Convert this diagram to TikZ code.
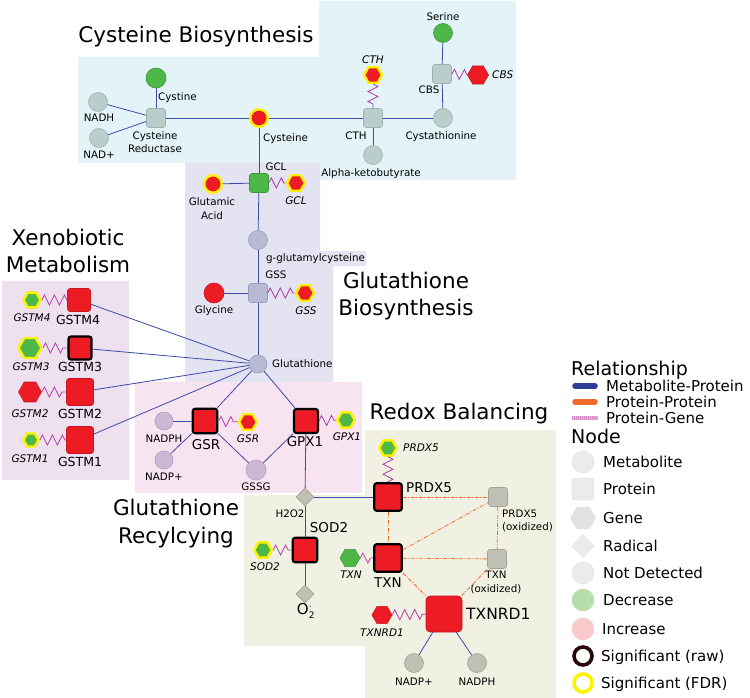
\documentclass[tikz,border=0pt]{standalone}
\usepackage{fontspec}
\setmainfont{DejaVu Sans}
\usetikzlibrary{shapes.geometric,decorations.pathmorphing}
\definecolor{cRed}{HTML}{ED1C24}
\definecolor{cRedD}{HTML}{C8161D}
\definecolor{cGreen}{HTML}{4DB848}
\definecolor{cGreenD}{HTML}{3C9A3A}
\definecolor{cYel}{HTML}{FFF200}
\definecolor{bgBlue}{HTML}{E3F3F7}
\definecolor{bgPurp}{HTML}{E3E3F1}
\definecolor{bgXeno}{HTML}{EFE0EF}
\definecolor{bgPink}{HTML}{F8E3F1}
\definecolor{bgBeige}{HTML}{F1F1E3}
\definecolor{nCys}{HTML}{B9CDCB}
\definecolor{nCysD}{HTML}{9DB3B1}
\definecolor{nGsh}{HTML}{B8B9D3}
\definecolor{nGshD}{HTML}{9C9DBE}
\definecolor{nRec}{HTML}{CDB7D4}
\definecolor{nRecD}{HTML}{B49DBE}
\definecolor{nRdx}{HTML}{BFBFB4}
\definecolor{nRdxD}{HTML}{A3A397}
\definecolor{eBlue}{HTML}{3B4CA6}
\definecolor{eOr}{HTML}{F26A2A}
\definecolor{eMag}{HTML}{B03FA5}
\definecolor{lgBlue}{HTML}{2E3D9A}
\definecolor{lgOr}{HTML}{F26A2A}
\definecolor{lgPink}{HTML}{EBB0DD}
\definecolor{lgPinkD}{HTML}{D58CC6}
\definecolor{lgGray}{HTML}{EBEBEB}
\definecolor{lgGrayD}{HTML}{E0E0E0}
\definecolor{lgGreen}{HTML}{B7DEAA}
\definecolor{lgRed}{HTML}{F9C9CB}
\definecolor{lgDark}{HTML}{2A0808}
\begin{document}
\begin{tikzpicture}[x=1pt,y=-1pt,
  met/.style={circle,inner sep=0pt,minimum size=19pt,line width=0.6pt},
  cys/.style={fill=nCys,draw=nCysD},
  gsh/.style={fill=nGsh,draw=nGshD},
  rec/.style={fill=nRec,draw=nRecD},
  rdx/.style={fill=nRdx,draw=nRdxD},
  grnf/.style={fill=cGreen,draw=cGreenD},
  redf/.style={fill=cRed,draw=cRedD},
  fdr/.style={draw=cYel,line width=2.4pt},
  raw/.style={draw=black,line width=2.2pt},
  prot/.style={rectangle,rounded corners=2.5pt,inner sep=0pt,minimum size=#1,line width=0.6pt},
  gene/.style={regular polygon,regular polygon sides=6,inner sep=0pt,minimum size=#1,line width=0.6pt},
  rad/.style={diamond,inner sep=0pt,minimum width=18pt,minimum height=18pt,fill=nRdx,draw=nRdxD,line width=0.6pt},
  mp/.style={draw=eBlue,line width=0.8pt},
  pp/.style={draw=eOr,line width=0.8pt,dash pattern=on 4pt off 1.5pt on 1pt off 1.5pt},
  pg/.style={draw=eMag,line width=0.8pt,decorate,decoration={zigzag,segment length=10pt,amplitude=5pt}},
  lab/.style={font=\fontsize{10.3}{13.5}\selectfont,inner sep=0pt,text height=7.5pt,text depth=0pt},
  mlab/.style={font=\fontsize{10.3}{13.5}\selectfont,inner sep=0pt,align=center},
  glab/.style={font=\fontsize{10.5}{12}\selectfont\itshape,inner sep=0pt,text height=7.7pt,text depth=0pt},
  plab/.style={font=\fontsize{13.5}{15}\selectfont,inner sep=0pt,text height=9.9pt,text depth=0pt},
  slab/.style={font=\fontsize{12.5}{14}\selectfont,inner sep=0pt,text height=9.1pt,text depth=0pt},
  blab/.style={font=\fontsize{15.5}{17}\selectfont,inner sep=0pt,text height=11.3pt,text depth=0pt},
  ttl/.style={font=\fontsize{21.5}{26}\selectfont,inner sep=0pt,anchor=base},
  lgt/.style={font=\fontsize{19}{22}\selectfont,inner sep=0pt,anchor=base west},
  lgi/.style={font=\fontsize{15}{17}\selectfont,inner sep=0pt,anchor=west,text height=10.9pt,text depth=0pt},
  lgs/.style={inner sep=0pt,fill=lgGray,draw=lgGrayD,line width=0.4pt}
]
\useasboundingbox (0,0) rectangle (750,698);
\fill[white] (0,0) rectangle (750,698);
% ---------- background regions
\fill[bgBlue] (78,57) -- (319,57) -- (319,1) -- (516,1) -- (516,180) -- (319,180) -- (319,163) -- (78,163) -- cycle;
\fill[bgPurp] (185,163) -- (320,163) -- (320,251) -- (366,251) -- (366,266) -- (333,266) -- (333,382) -- (185,382) -- cycle;
\fill[bgXeno] (2,281) rectangle (129,480);
\fill[bgPink] (135,382) rectangle (362,493);
\fill[bgBeige] (244,495) -- (365,495) -- (365,430) -- (556,430) -- (556,698) -- (365,698) -- (365,646) -- (244,646) -- cycle;
% ---------- titles
\node[ttl] (t1) at (196,43) {Cysteine Biosynthesis};
\node[ttl] (t2a) at (68,245) {Xenobiotic};
\node[ttl] (t2b) at (68,272) {Metabolism};
\node[ttl] (t3a) at (406,288) {Glutathione};
\node[ttl] (t3b) at (406,315) {Biosynthesis};
\node[ttl] (t4a) at (176,515) {Glutathione};
\node[ttl] (t4b) at (176,543) {Recylcying};
\node[ttl] (t5) at (459,419) {Redox Balancing};
% ---------- cysteine biosynthesis
\node[met,cys] (nadh) at (98,102) {};
\node[met,cys] (nadplus) at (99,138) {};
\node[met,grnf,minimum size=20pt] (cystine) at (156,78) {};
\node[prot=19pt,cys] (cr) at (156,118) {};
\node[met,redf,fdr,minimum size=17.5pt] (cysteine) at (259,118) {};
\node[prot=19pt,cys] (cth) at (373,118) {};
\node[gene=18pt,redf,fdr] (cthg) at (373,75) {};
\node[met,cys] (akb) at (373,155) {};
\node[met,cys] (cysta) at (443,118) {};
\node[prot=19pt,cys] (cbs) at (442,74) {};
\node[met,grnf] (serine) at (443,33) {};
\node[gene=21pt,redf] (cbsg) at (478,75) {};
\node[lab] (l_nadh) at (99,118) {NADH};
\node[lab] (l_nadplus) at (99,155) {NAD+};
\node[lab,anchor=west] (l_cystine) at (158,97) {Cystine};
\node[mlab] (l_cr) at (155,142) {Cysteine\\Reductase};
\node[lab,anchor=west] (l_cysteine) at (263,138) {Cysteine};
\node[lab] (l_cth) at (356,136) {CTH};
\node[glab] (l_cthg) at (373,60) {CTH};
\node[lab] (l_akb) at (371,173) {Alpha-ketobutyrate};
\node[lab] (l_cysta) at (441,136) {Cystathionine};
\node[lab] (l_serine) at (443,17) {Serine};
\node[lab] (l_cbs) at (429,90) {CBS};
\node[glab,anchor=west] (l_cbsg) at (492,75) {CBS};
% ---------- glutathione biosynthesis
\node[prot=19pt,grnf] (gcl) at (259,183) {};
\node[met,redf,fdr,minimum size=17.5pt] (glu) at (213,184) {};
\node[gene=18pt,redf,fdr] (gclg) at (296,183) {};
\node[met,gsh] (ggc) at (258,240) {};
\node[prot=19pt,gsh] (gss) at (258,293) {};
\node[met,redf,minimum size=20pt] (gly) at (214,293) {};
\node[gene=18pt,redf,fdr] (gssgene) at (305,293) {};
\node[met,gsh,minimum size=18pt] (gsh) at (258,364) {};
\node[lab] (l_gcl) at (276,167) {GCL};
\node[mlab] (l_glu) at (212,208.5) {Glutamic\\Acid};
\node[glab] (l_gclg) at (296,201) {GCL};
\node[lab] (l_ggc) at (315.5,258) {g-glutamylcysteine};
\node[lab] (l_gss) at (276,275) {GSS};
\node[lab] (l_gly) at (214,310) {Glycine};
\node[glab] (l_gssgene) at (306,311) {GSS};
\node[lab,anchor=west] (l_gsh) at (272,364) {Glutathione};
% ---------- xenobiotic metabolism
\node[gene=17pt,grnf,fdr] (g4g) at (32,300) {};
\node[prot=23pt,redf] (g4) at (79,300) {};
\node[gene=23pt,grnf,fdr] (g3g) at (30,348) {};
\node[prot=23pt,redf,raw] (g3) at (80,348) {};
\node[gene=23pt,redf] (g2g) at (30,392) {};
\node[prot=27pt,redf] (g2) at (80,392) {};
\node[gene=15pt,grnf,fdr] (g1g) at (31,440) {};
\node[prot=27pt,redf] (g1) at (80,440) {};
\node[glab] (l_g4g) at (32,318) {GSTM4};
\node[slab] (l_g4) at (78,320) {GSTM4};
\node[glab] (l_g3g) at (31,367) {GSTM3};
\node[slab] (l_g3) at (80,367) {GSTM3};
\node[glab] (l_g2g) at (30,414) {GSTM2};
\node[slab] (l_g2) at (80,414) {GSTM2};
\node[glab] (l_g1g) at (30,459) {GSTM1};
\node[slab] (l_g1) at (80,462) {GSTM1};
% ---------- glutathione recycling
\node[met,rec,minimum size=18pt] (nadph1) at (164,421) {};
\node[met,rec,minimum size=18pt] (nadp1) at (164,460) {};
\node[met,rec,minimum size=20pt] (gssg) at (256,470) {};
\node[prot=24.5pt,redf,raw] (gsr) at (205,421) {};
\node[gene=18pt,redf,fdr] (gsrg) at (248,422) {};
\node[prot=24pt,redf,raw] (gpx) at (306,421) {};
\node[gene=17.5pt,grnf,fdr] (gpxg) at (346,420) {};
\node[lab] (l_nadph1) at (164,439) {NADPH};
\node[lab] (l_nadp1) at (164,477) {NADP+};
\node[lab] (l_gssg) at (256,487) {GSSG};
\node[plab] (l_gsr) at (206,445) {GSR};
\node[glab] (l_gsrg) at (248,439) {GSR};
\node[plab] (l_gpx) at (305,442) {GPX1};
\node[glab] (l_gpxg) at (347,437) {GPX1};
% ---------- redox balancing
\node[rad] (h2o2) at (305,497) {};
\node[prot=24.5pt,redf,raw] (sod) at (305,550) {};
\node[gene=17.5pt,grnf,fdr] (sodg) at (263,550) {};
\node[rad] (o2) at (305,594) {};
\node[prot=27.5pt,redf,raw] (prdx) at (388,497) {};
\node[gene=17.5pt,grnf,fdr] (prdxg) at (388,448) {};
\node[prot=27.5pt,redf,raw] (txn) at (388,558) {};
\node[gene=20pt,grnf] (txng) at (350,558) {};
\node[prot=36pt,redf,rounded corners=4pt] (txnrd) at (444,614) {};
\node[gene=20pt,redf] (txnrdg) at (382,615) {};
\node[prot=19pt,rdx] (prdxox) at (498,497) {};
\node[prot=19pt,rdx] (txnox) at (497,559) {};
\node[met,rdx] (nadp2) at (414,663) {};
\node[met,rdx] (nadph2) at (477,663) {};
\node[lab] (l_h2o2) at (290,514) {H2O2};
\node[plab] (l_sod) at (329,528) {SOD2};
\node[glab] (l_sodg) at (265,567) {SOD2};
\node[font=\fontsize{15}{17}\selectfont,inner sep=0pt] (l_o2) at (306,611) {O$^{\cdot}_{\mbox{\fontsize{9}{9}\selectfont 2}}$};
\node[plab,anchor=west] (l_prdx) at (406,488) {PRDX5};
\node[glab,anchor=west] (l_prdxg) at (403,448) {PRDX5};
\node[plab] (l_txn) at (388,583) {TXN};
\node[glab] (l_txng) at (351,575) {TXN};
\node[blab,anchor=west] (l_txnrd) at (466,614) {TXNRD1};
\node[glab] (l_txnrdg) at (382,633) {TXNRD1};
\node[mlab,align=left,anchor=west] (l_prdxox) at (502,521) {PRDX5\\(oxidized)};
\node[mlab] (l_txnox) at (496,582.5) {TXN\\(oxidized)};
\node[lab] (l_nadp2) at (414,682) {NADP+};
\node[lab] (l_nadph2) at (477,682) {NADPH};
% ---------- metabolite-protein edges
\draw[mp] (nadh) -- (cr);
\draw[mp] (nadplus) -- (cr);
\draw[mp] (cystine) -- (cr);
\draw[mp] (cr) -- (cysteine);
\draw[mp] (cysteine) -- (cth);
\draw[mp] (cth) -- (cysta);
\draw[mp] (cth) -- (akb);
\draw[mp] (serine) -- (cbs);
\draw[mp] (cbs) -- (cysta);
\draw[mp] (cysteine) -- (gcl);
\draw[mp] (glu) -- (gcl);
\draw[mp] (gcl) -- (ggc);
\draw[mp] (ggc) -- (gss);
\draw[mp] (gly) -- (gss);
\draw[mp] (gss) -- (gsh);
\draw[mp] (g4) -- (gsh);
\draw[mp] (g3) -- (gsh);
\draw[mp] (g2) -- (gsh);
\draw[mp] (g1) -- (gsh);
\draw[mp] (gsh) -- (gsr);
\draw[mp] (gsh) -- (gpx);
\draw[mp] (nadph1) -- (gsr);
\draw[mp] (nadp1) -- (gsr);
\draw[mp] (gsr) -- (gssg);
\draw[mp] (gpx) -- (gssg);
\draw[mp] (gpx) -- (h2o2);
\draw[mp] (h2o2) -- (prdx);
\draw[mp] (h2o2) -- (sod);
\draw[mp] (sod) -- (o2);
\draw[mp] (txnrd) -- (nadp2);
\draw[mp] (txnrd) -- (nadph2);
% ---------- protein-protein edges
\draw[pp] (prdx) -- (prdxox);
\draw[pp] (prdx) -- (txn);
\draw[pp] (txn) -- (prdxox);
\draw[pp] (txn) -- (txnox);
\draw[pp] (prdxox) -- (txnox);
\draw[pp] (txn) -- (txnrd);
\draw[pp] (txnrd) -- (txnox);
% ---------- protein-gene edges
\draw[pg] (cthg) -- (cth);
\draw[pg] (cbs) -- (cbsg);
\draw[pg] (gcl) -- (gclg);
\draw[pg] (gss) -- (gssgene);
\draw[pg] (g4g) -- (g4);
\draw[pg] (g3g) -- (g3);
\draw[pg] (g2g) -- (g2);
\draw[pg] (g1g) -- (g1);
\draw[pg] (gsr) -- (gsrg);
\draw[pg] (gpx) -- (gpxg);
\draw[pg] (sodg) -- (sod);
\draw[pg] (prdxg) -- (prdx);
\draw[pg] (txng) -- (txn);
\draw[pg] (txnrdg) -- (txnrd);
% ---------- legend
\node[lgt] (lg_rel) at (571,375) {Relationship};
\coordinate (lb1) at (575,386); \coordinate (lb2) at (595,386);
\coordinate (lo1) at (575,402); \coordinate (lo2) at (595,402);
\coordinate (lp1) at (572,418); \coordinate (lp2) at (598,418);
\draw[lgBlue,line width=5.5pt,line cap=round] (lb1) -- (lb2);
\draw[lgOr,line width=5.5pt,line cap=round] (lo1) -- (lo2);
\draw[lgPink,line width=4.5pt] (lp1) -- (lp2);
\draw[lgPinkD,line width=4.5pt,dash pattern=on 1pt off 1pt] (lp1) -- (lp2);
\node[lgi] (lg_mp) at (606,386) {Metabolite-Protein};
\node[lgi] (lg_pp) at (606,402) {Protein-Protein};
\node[lgi] (lg_pg) at (606,418) {Protein-Gene};
\node[lgt] (lg_node) at (571,443) {Node};
\node[lgs,circle,minimum size=22pt] (ls1) at (583,462) {};
\node[lgs,rectangle,rounded corners=2pt,minimum size=22pt] (ls2) at (583,489) {};
\node[lgs,regular polygon,regular polygon sides=6,minimum size=25pt,fill=lgGrayD!80!lgGray] (ls3) at (583,518) {};
\node[lgs,diamond,minimum width=23pt,minimum height=23pt] (ls4) at (583,546) {};
\node[lgs,circle,minimum size=22pt] (ls5) at (583,573) {};
\node[lgs,circle,minimum size=22pt,fill=lgGreen,draw=lgGreen] (ls6) at (583,600) {};
\node[lgs,circle,minimum size=22pt,fill=lgRed,draw=lgRed] (ls7) at (583,629) {};
\node[circle,inner sep=0pt,minimum size=18pt,draw=lgDark,line width=3.6pt,fill=white] (ls8) at (583,656) {};
\node[circle,inner sep=0pt,minimum size=18pt,draw=cYel,line width=3.6pt,fill=white] (ls9) at (583,683) {};
\node[lgi] (lt1) at (603,462) {Metabolite};
\node[lgi] (lt2) at (603,489) {Protein};
\node[lgi] (lt3) at (603,518) {Gene};
\node[lgi] (lt4) at (603,546) {Radical};
\node[lgi] (lt5) at (603,573) {Not Detected};
\node[lgi] (lt6) at (603,600) {Decrease};
\node[lgi] (lt7) at (602,629) {Increase};
\node[lgi] (lt8) at (601,656) {Significant (raw)};
\node[lgi] (lt9) at (601,683) {Significant (FDR)};
\end{tikzpicture}
\end{document}
